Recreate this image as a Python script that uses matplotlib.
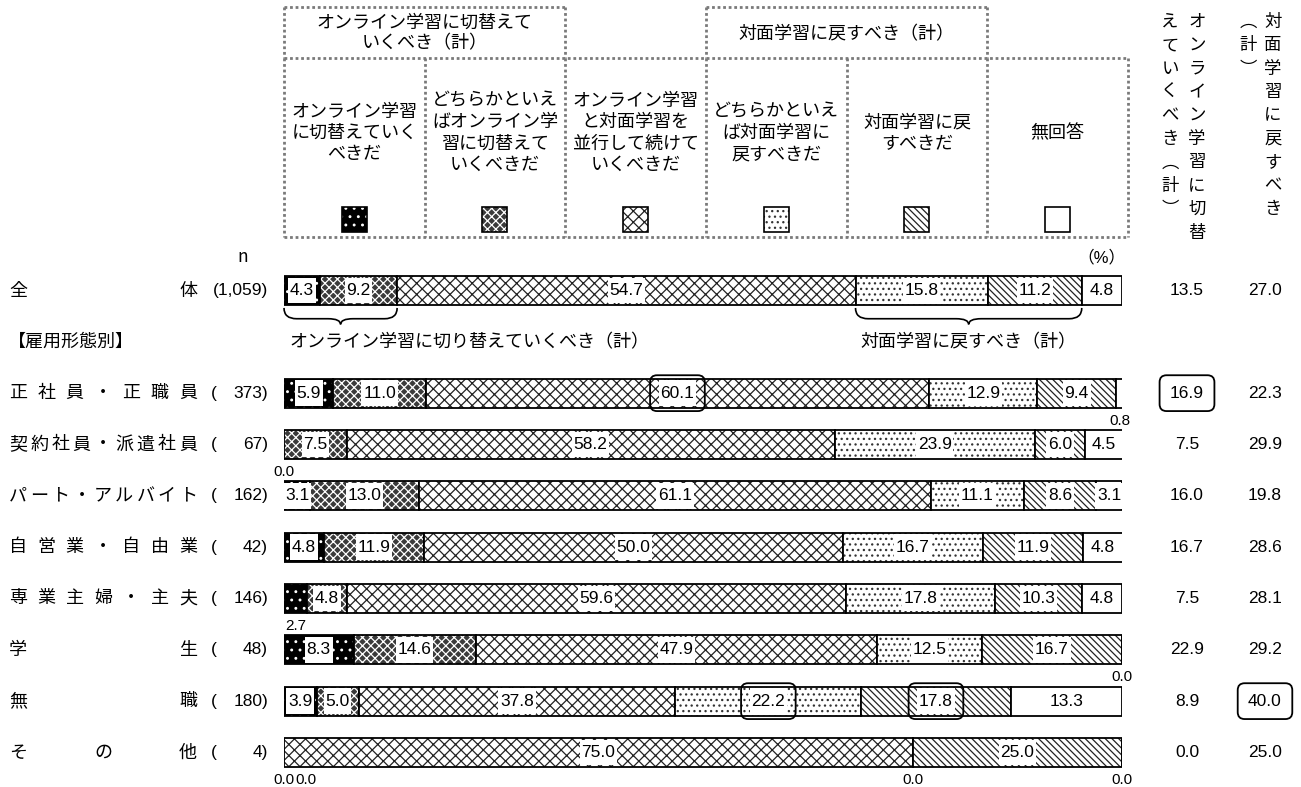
import matplotlib

matplotlib.use("Agg")

import matplotlib.pyplot as plt
import numpy as np
from matplotlib import transforms
from matplotlib.lines import Line2D
from matplotlib.patches import BoxStyle, PathPatch, Rectangle
from matplotlib.path import Path

W, H = 1301, 787
JP = ["Noto Sans CJK JP", "DejaVu Sans"]
NUM = ["Liberation Sans", "Noto Sans CJK JP"]

plt.rcParams["font.family"] = JP
plt.rcParams["hatch.linewidth"] = 0.9

# ---- data -------------------------------------------------------------
row_labels = ["全体", "正社員・正職員", "契約社員・派遣社員", "パート・アルバイト", "自営業・自由業",
              "専業主婦・主夫", "学生", "無職", "その他"]
row_n = ["1,059", "373", "67", "162", "42", "146", "48", "180", "4"]

col_labels = [
    "オンライン学習\nに切替えていく\nべきだ",
    "どちらかといえ\nばオンライン学\n習に切替えて\nいくべきだ",
    "オンライン学習\nと対面学習を\n並行して続けて\nいくべきだ",
    "どちらかといえ\nば対面学習に\n戻すべきだ",
    "対面学習に戻\nすべきだ",
    "無回答",
]
switch_online = [4.3, 5.9, 0.0, 3.1, 4.8, 2.7, 8.3, 3.9, 0.0]
rather_online = [9.2, 11.0, 7.5, 13.0, 11.9, 4.8, 14.6, 5.0, 0.0]
both_ways = [54.7, 60.1, 58.2, 61.1, 50.0, 59.6, 47.9, 37.8, 75.0]
rather_face = [15.8, 12.9, 23.9, 11.1, 16.7, 17.8, 12.5, 22.2, 0.0]
back_face = [11.2, 9.4, 6.0, 8.6, 11.9, 10.3, 16.7, 17.8, 25.0]
no_answer = [4.8, 0.8, 4.5, 3.1, 4.8, 4.8, 0.0, 13.3, 0.0]
online_total = [13.5, 16.9, 7.5, 16.0, 16.7, 7.5, 22.9, 8.9, 0.0]
face_total = [27.0, 22.3, 29.9, 19.8, 28.6, 28.1, 29.2, 40.0, 25.0]

# (row, column) cells with a rounded frame
framed_cells = [(1, 2), (7, 3), (7, 4)]
framed_totals = [(1, 0), (7, 1)]

# face colour, hatch, hatch colour per answer
styles = [
    ("black", "..", "white"),
    ("#3a3a3a", "xxxx", "white"),
    ("white", "xxx", "#222222"),
    ("white", "...", "#333333"),
    ("white", "\\\\\\\\\\", "#222222"),
    ("white", None, None),
]


def fx(x):
    return x / W


def fy(y):
    return 1 - y / H


def pad_box(xpad, ypad, style):
    def f(x0, y0, w, h, ms):
        return style(x0 - xpad * ms, y0 - ypad * ms, w + 2 * xpad * ms, h + 2 * ypad * ms, ms)
    return f


label_box = pad_box(0.1, 0.3, BoxStyle.Square(pad=0))
frame_box = pad_box(0.6, 0.6, BoxStyle.Round(pad=0, rounding_size=0.4))

fig = plt.figure(figsize=(W / 100, H / 100), dpi=100)
BAR_L, BAR_R = 284, 1122
ROW0, STEP = 290.5, 51.33
ax = fig.add_axes([fx(BAR_L), 0, (BAR_R - BAR_L) / W, 1])
ax.set_xlim(0, 100)
ax.set_ylim((H - ROW0) / STEP, -ROW0 / STEP)
ax.axis("off")
BAR_H = 0.57
VAL_FS = 12.5

ypos = np.array([0, 2, 3, 4, 5, 6, 7, 8, 9])
data = np.array([switch_online, rather_online, both_ways, rather_face, back_face, no_answer]).T

# ---- bars ---------------------------------------------------------------
left = np.zeros(len(row_labels))
for j, (face, hatch, hc) in enumerate(styles):
    vals = data[:, j]
    ax.barh(ypos, vals, left=left, height=BAR_H, color=face, linewidth=0)
    if hatch:
        ax.barh(ypos, vals, left=left, height=BAR_H, fill=False, hatch=hatch, edgecolor=hc, linewidth=0)
    ax.barh(ypos, vals, left=left, height=BAR_H, fill=False, edgecolor="black", linewidth=1.3)
    left += vals

# value labels
for i, y in enumerate(ypos):
    start = 0.0
    last_below = None
    for j in range(6):
        v = data[i, j]
        cx = start + v / 2
        txt = f"{v:.1f}"
        if v >= 3:
            ax.text(cx, y, txt, ha="center", va="center", fontsize=VAL_FS, family=NUM,
                    bbox=dict(boxstyle=label_box, fc="white", ec="none"))
            if (i, j) in framed_cells:
                ax.text(cx, y, txt, ha="center", va="center", fontsize=VAL_FS, family=NUM, color="none",
                        bbox=dict(boxstyle=frame_box, fc="none", ec="black", lw=1.3))
        else:
            bx = cx
            if last_below is not None and bx - last_below < 2.5:
                bx = last_below + 2.6
            ax.text(bx, y + BAR_H / 2 + 0.25, txt, ha="center", va="center", fontsize=11, family=NUM)
            last_below = bx
        start += v


# braces under the total row
def brace(x0, x1, y_top, y_mid, y_tip, q=1.5):
    xm = (x0 + x1) / 2
    verts = [(x0, y_top), (x0, y_mid), (x0 + q, y_mid), (xm - q, y_mid), (xm, y_mid), (xm, y_tip),
             (xm, y_mid), (xm + q, y_mid), (x1 - q, y_mid), (x1, y_mid), (x1, y_top)]
    codes = [Path.MOVETO, Path.CURVE3, Path.CURVE3, Path.LINETO, Path.CURVE3, Path.CURVE3,
             Path.CURVE3, Path.CURVE3, Path.LINETO, Path.CURVE3, Path.CURVE3]
    ax.add_patch(PathPatch(Path(verts, codes), fill=False, ec="black", lw=1.2, clip_on=False))


on_end = switch_online[0] + rather_online[0]
face_start = on_end + both_ways[0]
face_end = face_start + rather_face[0] + back_face[0]
brace(0, on_end, 0.34, 0.55, 0.66)
brace(face_start, face_end, 0.34, 0.55, 0.66)
ax.text(0.7, 1, "オンライン学習に切り替えていくべき（計）", ha="left", va="center", fontsize=13)
ax.text((face_start + face_end) / 2, 1, "対面学習に戻すべき（計）", ha="center", va="center", fontsize=13)

# ---- left labels and n ------------------------------------------------
tr = transforms.blended_transform_factory(fig.transFigure, ax.transData)
for i, y in enumerate(ypos):
    chars = row_labels[i]
    xs = np.linspace(18, 188, len(chars))
    for c, x in zip(chars, xs):
        fig.text(fx(x), y, c, transform=tr, ha="center", va="center", fontsize=13)
    if len(row_n[i]) > 3:
        fig.text(fx(268), y, f"({row_n[i]})", transform=tr, ha="right", va="center", fontsize=12.5, family=NUM)
    else:
        fig.text(fx(211), y, "(", transform=tr, ha="left", va="center", fontsize=12.5, family=NUM)
        fig.text(fx(268), y, f"{row_n[i]})", transform=tr, ha="right", va="center", fontsize=12.5, family=NUM)
    # totals on the right
    for k, (xc, vals) in enumerate([(1187, online_total), (1265, face_total)]):
        fig.text(fx(xc), y, f"{vals[i]:.1f}", transform=tr, ha="center", va="center", fontsize=VAL_FS, family=NUM)
        if (i, k) in framed_totals:
            fig.text(fx(xc), y, f"{vals[i]:.1f}", transform=tr, ha="center", va="center", fontsize=VAL_FS,
                     family=NUM, color="none", bbox=dict(boxstyle=frame_box, fc="none", ec="black", lw=1.3))

fig.text(fx(8), 1, "【雇用形態別】", transform=tr, ha="left", va="center", fontsize=13)
fig.text(fx(243), fy(257), "n", ha="center", va="center", fontsize=12.5)
fig.text(fx(1101), fy(257), "（%）", ha="center", va="center", fontsize=12, family=NUM)

# ---- header table -----------------------------------------------------
cols = np.linspace(284, 1128, 7)
T0, T1, T2 = 7, 58, 237
border = dict(color="#7a7a7a", lw=2.0, ls=(0, (1, 1)), transform=fig.transFigure)


def hline(x0, x1, y):
    fig.add_artist(Line2D([fx(x0), fx(x1)], [fy(y), fy(y)], **border))


def vline(x, y0, y1):
    fig.add_artist(Line2D([fx(x), fx(x)], [fy(y0), fy(y1)], **border))


hline(cols[0], cols[2], T0)
hline(cols[3], cols[5], T0)
hline(cols[0], cols[6], T1)
hline(cols[0], cols[6], T2)
for k in [0, 2, 3, 5]:
    vline(cols[k], T0, T1)
for x in cols:
    vline(x, T1, T2)

fig.text(fx((cols[0] + cols[2]) / 2), fy(33), "オンライン学習に切替えて\nいくべき（計）", ha="center",
         va="center", fontsize=13, linespacing=1.15)
fig.text(fx((cols[3] + cols[5]) / 2), fy(34), "対面学習に戻すべき（計）", ha="center", va="center", fontsize=13)

for j, lab in enumerate(col_labels):
    cx = (cols[j] + cols[j + 1]) / 2
    fig.text(fx(cx), fy(133), lab, ha="center", va="center", fontsize=13, linespacing=1.25)
    face, hatch, hc = styles[j]
    r = (fx(cx - 12.5), fy(232)), 25 / W, 25 / H
    fig.add_artist(Rectangle(*r, transform=fig.transFigure, facecolor=face, lw=0))
    if hatch:
        fig.add_artist(Rectangle(*r, transform=fig.transFigure, fill=False, hatch=hatch, edgecolor=hc, lw=0))
    fig.add_artist(Rectangle(*r, transform=fig.transFigure, fill=False, edgecolor="black", lw=1.2))

# vertical headers for the totals
vertical = [(1197, "オンライン学習に切替"), (1170, "えていくべき︵計︶"),
            (1273, "対面学習に戻すべき"), (1248, "︵計︶")]
for x, s in vertical:
    for k, c in enumerate(s):
        fig.text(fx(x), fy(22 + 23.4 * k), c, ha="center", va="center", fontsize=12.5)

fig.savefig("out.png", dpi=100)
